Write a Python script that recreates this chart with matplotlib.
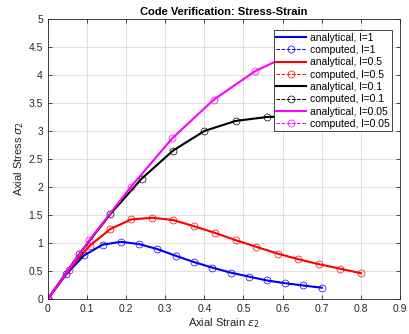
import numpy as np
import matplotlib
matplotlib.use('Agg')
import matplotlib.pyplot as plt

plt.rcParams['font.family'] = ['Liberation Sans', 'DejaVu Sans']
plt.rcParams['mathtext.fontset'] = 'dejavusans'

# strain / stress values, one set per length scale l
eps_l1 = [0, 0.047, 0.093, 0.14, 0.187, 0.233, 0.28, 0.327, 0.373, 0.42,
          0.467, 0.513, 0.56, 0.607, 0.653, 0.70]
sig_l1 = [0, 0.44, 0.78, 0.97, 1.02, 0.98, 0.89, 0.77, 0.66, 0.56,
          0.47, 0.40, 0.33, 0.28, 0.24, 0.20]

eps_l05 = [0, 0.053, 0.107, 0.16, 0.213, 0.267, 0.32, 0.373, 0.427, 0.48,
           0.533, 0.587, 0.64, 0.693, 0.747, 0.80]
sig_l05 = [0, 0.52, 0.95, 1.25, 1.42, 1.45, 1.41, 1.30, 1.18, 1.05,
           0.93, 0.81, 0.71, 0.62, 0.54, 0.46]

eps_l01 = [0, 0.08, 0.16, 0.24, 0.32, 0.40, 0.48, 0.56, 0.64, 0.72, 0.80]
sig_l01 = [0, 0.80, 1.52, 2.15, 2.65, 3.00, 3.18, 3.25, 3.27, 3.26, 3.24]

eps_l005 = [0, 0.106, 0.212, 0.318, 0.424, 0.53, 0.636, 0.742, 0.80]
sig_l005 = [0, 1.05, 2.00, 2.87, 3.56, 4.07, 4.42, 4.65, 4.75]

series = [
    ('1', '#0000ff', eps_l1, sig_l1),
    ('0.5', '#ff0000', eps_l05, sig_l05),
    ('0.1', '#000000', eps_l01, sig_l01),
    ('0.05', '#ff00ff', eps_l005, sig_l005),
]

fig = plt.figure(figsize=(4.09, 3.34), dpi=100)
ax = fig.add_axes([0.117, 0.105, 0.861, 0.838])

for lab, c, x, y in series:
    ax.plot(x, y, '-', color=c, linewidth=1.5, label='analytical, l=' + lab)
    ax.plot(x, y, '--', color=c, linewidth=0.7, marker='o', markersize=5,
            markerfacecolor='none', markeredgewidth=0.5,
            label='computed, l=' + lab)

ax.set_xlim(0, 0.9)
ax.set_ylim(0, 5)
ax.set_xticks(np.arange(0, 0.91, 0.1))
ax.set_xticklabels(['0', '0.1', '0.2', '0.3', '0.4', '0.5', '0.6', '0.7', '0.8', '0.9'])
ax.set_yticks(np.arange(0, 5.01, 0.5))
ax.set_yticklabels(['0', '0.5', '1', '1.5', '2', '2.5', '3', '3.5', '4', '4.5', '5'])
ax.tick_params(direction='in', labelsize=7.5, top=True, right=True, length=3,
               width=0.6, colors='#262626')
ax.grid(True, color='#e0e0e0', linewidth=0.7)
ax.set_axisbelow(True)
for s in ax.spines.values():
    s.set_linewidth(0.6)
    s.set_color('#262626')

ax.set_title('Code Verification: Stress-Strain', fontsize=8, fontweight='bold', pad=3)
ax.set_xlabel(r'Axial Strain $\epsilon_2$', fontsize=8, color='#262626', labelpad=2)
ax.set_ylabel(r'Axial Stress $\sigma_2$', fontsize=8, color='#262626', labelpad=2)

leg = ax.legend(loc='upper right', bbox_to_anchor=(0.977, 0.96), fontsize=7.5,
                frameon=True, fancybox=False, edgecolor='#262626',
                borderpad=0.25, labelspacing=0.22, handlelength=2.9,
                handletextpad=0.3, borderaxespad=0)
leg.get_frame().set_linewidth(0.6)
leg.get_frame().set_alpha(1)

fig.savefig('out.png', dpi=100)
